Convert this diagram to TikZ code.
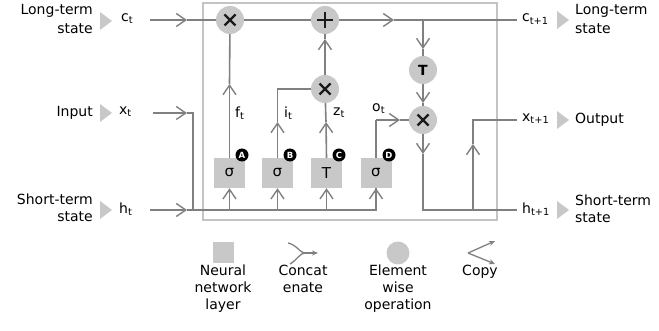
\documentclass[tikz,border=0pt]{standalone}
\usepackage{fontspec}
\setmainfont{DejaVu Sans}
\usetikzlibrary{arrows.meta}
\definecolor{wirec}{HTML}{808080}
\definecolor{opfill}{HTML}{C8C8C8}
\definecolor{framec}{HTML}{C4C4C4}
\definecolor{symc}{HTML}{1A1A1A}
\begin{document}
\begin{tikzpicture}[x=1pt,y=-1pt,
  font=\fontsize{14}{17}\selectfont,
  wire/.style={draw=wirec, line width=1.6pt},
  arr/.style={wire, -{Straight Barb[length=9.5pt,width=13pt,line width=1.4pt]}},
  legarr/.style={draw=wirec, line width=1.3pt, -{Stealth[length=6pt,width=5pt]}},
  opnode/.style={circle, fill=opfill, minimum size=28pt, inner sep=0pt},
  gatebox/.style={rectangle, fill=opfill, minimum width=31pt, minimum height=30pt, inner sep=0pt, font=\fontsize{15}{17}\selectfont},
  badge/.style={circle, fill=black, text=white, minimum size=13pt, inner sep=0pt, font=\fontsize{8.5}{9}\bfseries\selectfont},
  lbl/.style={inner sep=0pt},
  tri/.style={fill=opfill}
]
\useasboundingbox (0,0) rectangle (659,331);

% frame
\draw[framec, line width=1.5pt] (203,3) rectangle (497,220);

% operation nodes
\node[opnode] (f) at (230,20) {};
\node[opnode] (plus) at (325,20) {};
\node[opnode] (mi) at (325,89) {};
\node[opnode, font=\fontsize{14}{17}\bfseries\selectfont] (th) at (423,70) {T};
\node[opnode] (mo) at (423,120) {};

% symbols
\foreach \n in {f,mi,mo}{
  \draw[symc, line width=2.3pt] ([shift={(-5.5,-5.5)}]\n.center) -- ([shift={(5.5,5.5)}]\n.center);
  \draw[symc, line width=2.3pt] ([shift={(-5.5,5.5)}]\n.center) -- ([shift={(5.5,-5.5)}]\n.center);
}
\draw[symc, line width=2.3pt] ([shift={(-8,0)}]plus.center) -- ([shift={(8,0)}]plus.center);
\draw[symc, line width=2.3pt] ([shift={(0,-8)}]plus.center) -- ([shift={(0,8)}]plus.center);

% gates
\node[gatebox] (ga) at (229.5,173) {σ};
\node[gatebox] (gb) at (277.5,173) {σ};
\node[gatebox] (gc) at (326.5,173) {T};
\node[gatebox] (gd) at (376,173) {σ};
\node[badge] (ba) at (242,155) {A};
\node[badge] (bb) at (290,155) {B};
\node[badge] (bc) at (339,155) {C};
\node[badge] (bd) at (389,155) {D};

% coordinates
\coordinate (cin) at (150,20);
\coordinate (cinA) at (187,20);
\coordinate (cmidA) at (394,20);
\coordinate (cbr) at (423,20);
\coordinate (cout) at (517,20);
\coordinate (thA) at (423,49);
\coordinate (moA) at (423,103);
\coordinate (downA) at (423,154);
\coordinate (hcorner) at (423,210);
\coordinate (hout) at (517,210);
\coordinate (xbr) at (473,210);
\coordinate (xupA) at (473,144);
\coordinate (xcorner) at (473,120);
\coordinate (xout) at (517,120);
\coordinate (xin) at (153,113);
\coordinate (xinA) at (187,113);
\coordinate (xturn) at (193,113);
\coordinate (xdown) at (193,210);
\coordinate (hin) at (150,210);
\coordinate (hinA) at (187,210);
\coordinate (hend) at (376,210);
\coordinate (fA) at (229.5,84);
\coordinate (bA) at (277.5,122);
\coordinate (bturn) at (277.5,89);
\coordinate (cA) at (326,122);
\coordinate (pA) at (325,39);
\coordinate (dturn) at (376,120);
\coordinate (dA) at (400,120);

% long-term line
\draw[arr] (cin) -- (cinA);
\draw[wire] (cinA) -- (f) -- (plus);
\draw[arr] (plus) -- (cmidA);
\draw[wire] (cmidA) -- (cout);
\draw[arr] (cbr) -- (thA);
\draw[wire] (thA) -- (th);
\draw[arr] (th) -- (moA);
\draw[wire] (moA) -- (mo);
\draw[arr] (mo) -- (downA);
\draw[wire] (downA) -- (hcorner) -- (hout);
\draw[arr] (xbr) -- (xupA);
\draw[wire] (xupA) -- (xcorner) -- (xout);

% inputs
\draw[arr] (xin) -- (xinA);
\draw[wire] (xinA) -- (xturn) -- (xdown);
\draw[arr] (hin) -- (hinA);
\draw[wire] (hinA) -- (hend) -- (gd.south);
\foreach \g in {ga,gb,gc,gd}{
  \draw[arr] (\g.south |- hin) -- (\g.south);
}

% gate outputs
\draw[arr] (ga) -- (fA);
\draw[wire] (fA) -- (f);
\draw[arr] (gb) -- (bA);
\draw[wire] (bA) -- (bturn) -- (mi);
\draw[arr] (gc.north) -- (cA);
\draw[wire] (cA) -- (mi);
\draw[arr] (mi) -- (pA);
\draw[wire] (pA) -- (plus);
\draw[wire] (gd) -- (dturn);
\draw[arr] (dturn) -- (dA);
\draw[wire] (dA) -- (mo);

% gate labels
\node[lbl, anchor=west] (lf) at (235,113) {f\textsubscript{t}};
\node[lbl, anchor=west] (li) at (284,113) {i\textsubscript{t}};
\node[lbl, anchor=west] (lz) at (333,113) {z\textsubscript{t}};
\node[lbl, anchor=west] (lo) at (372,109) {o\textsubscript{t}};

% left labels
\node[lbl, anchor=east] (lt1) at (93,11) {Long-term};
\node[lbl, anchor=east] (lt2) at (93,29) {state};
\fill[tri] (100,12) -- (112,21) -- (100,30) -- cycle;
\node[lbl, anchor=west] (ct) at (121,19) {c\textsubscript{t}};

\node[lbl, anchor=east] (inp) at (93,113) {Input};
\fill[tri] (100,104) -- (112,113) -- (100,122) -- cycle;
\node[lbl, anchor=west] (xt) at (119,112) {x\textsubscript{t}};

\node[lbl, anchor=east] (st1) at (93,199) {Short-term};
\node[lbl, anchor=east] (st2) at (93,217) {state};
\fill[tri] (100,201) -- (112,210) -- (100,219) -- cycle;
\node[lbl, anchor=west] (ht) at (119,209) {h\textsubscript{t}};

% right labels
\node[lbl, anchor=west] (ct1) at (522,19) {c\textsubscript{t+1}};
\fill[tri] (557,11) -- (569,20) -- (557,29) -- cycle;
\node[lbl, anchor=west] (rt1) at (575,11) {Long-term};
\node[lbl, anchor=west] (rt2) at (575,29) {state};

\node[lbl, anchor=west] (xt1) at (522,119) {x\textsubscript{t+1}};
\fill[tri] (557,111) -- (569,120) -- (557,129) -- cycle;
\node[lbl, anchor=west] (outp) at (575,120) {Output};

\node[lbl, anchor=west] (ht1) at (522,209) {h\textsubscript{t+1}};
\fill[tri] (557,201) -- (569,210) -- (557,219) -- cycle;
\node[lbl, anchor=west] (rs1) at (575,200) {Short-term};
\node[lbl, anchor=west] (rs2) at (575,218) {state};

% legend
\node[rectangle, fill=opfill, minimum size=21pt, inner sep=0pt] (lgbox) at (223,253) {};
\node[lbl, align=center, anchor=north] (lgboxt) at (223,265) {Neural\\network\\layer};

\coordinate (cm) at (305,253);
\coordinate (cu) at (288,243);
\coordinate (cl) at (290,264);
\coordinate (ce) at (318,253);
\draw[draw=wirec, line width=1.3pt] (cu) .. controls (297,245) and (300,253) .. (cm);
\draw[draw=wirec, line width=1.3pt] (cl) .. controls (297,260) and (300,253) .. (cm);
\draw[legarr] (cm) -- (ce);
\node[lbl, align=center, anchor=north] (lgcat) at (303,265) {Concat\\enate};

\node[circle, fill=opfill, minimum size=23pt, inner sep=0pt] (lgcirc) at (398,253) {};
\node[lbl, align=center, anchor=north] (lgct) at (398,265) {Element\\wise\\operation};

\coordinate (cp) at (468,253);
\coordinate (cp1) at (495,241);
\coordinate (cp2) at (495,264);
\draw[legarr] (cp) -- (cp1);
\draw[legarr] (cp) -- (cp2);
\node[lbl, align=center, anchor=north] (lgcopy) at (480,265) {Copy};
\end{tikzpicture}
\end{document}
